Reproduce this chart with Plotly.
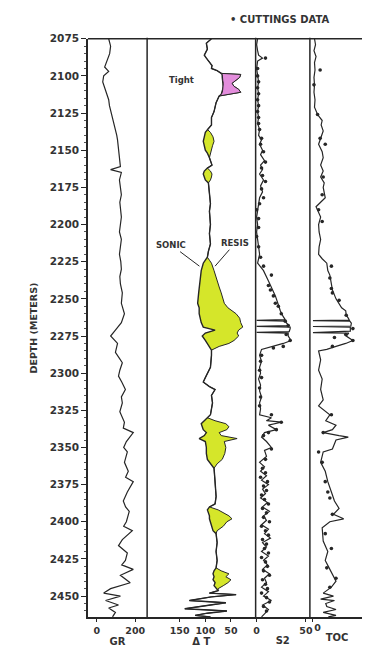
import plotly.graph_objects as go

# ---------------- data (depth in metres) ----------------
depth_ticks = list(range(2075, 2451, 25))

# Gamma ray (API)
gr_log = [
    (2075, 62), (2080, 72), (2085, 67), (2090, 51), (2094, 41), (2097, 62), (2100, 36),
    (2104, 31), (2110, 46), (2116, 62), (2120, 66), (2123, 72), (2127, 80), (2130, 87),
    (2136, 97), (2140, 104), (2143, 108), (2150, 113), (2156, 118), (2161, 123), (2163, 72),
    (2165, 128), (2170, 118), (2175, 125), (2180, 128), (2185, 120), (2190, 123), (2195, 128),
    (2200, 123), (2205, 118), (2210, 128), (2215, 123), (2220, 118), (2225, 125), (2230, 128),
    (2235, 120), (2240, 123), (2246, 133), (2253, 128), (2260, 144), (2266, 128), (2271, 97),
    (2275, 72), (2280, 108), (2286, 97), (2290, 118), (2293, 133), (2298, 120), (2302, 113),
    (2306, 130), (2311, 149), (2316, 128), (2320, 133), (2326, 120), (2333, 144), (2337, 138),
    (2340, 190), (2346, 154), (2350, 140), (2353, 159), (2360, 144), (2366, 164), (2370, 150),
    (2373, 190), (2380, 159), (2386, 138), (2390, 150), (2393, 169), (2400, 154), (2403, 140),
    (2406, 185), (2412, 133), (2416, 113), (2421, 159), (2426, 149), (2429, 130), (2432, 190),
    (2436, 123), (2441, 174), (2445, 72), (2448, 36), (2450, 123), (2453, 46), (2456, 113),
    (2458, 62), (2461, 97), (2464, 82),
]

# Sonic (delta-T, us/ft) and resistivity overlay (scaled to delta-T units)
dt_log = [
    (2075, 88, 88), (2078, 98, 98), (2082, 96, 96), (2086, 102, 102), (2088, 98, 98),
    (2091, 92, 92), (2093, 87, 87), (2095, 88, 88), (2096.5, 77, 77), (2098.3, 69, 69),
    (2099, 67, 31), (2101, 67, 33), (2103, 66, 40), (2105, 65, 48), (2107, 65, 44),
    (2109, 66, 35), (2111, 67, 31), (2112.5, 69, 60), (2113.5, 73, 73), (2118, 79, 79),
    (2124, 83, 83), (2128, 88, 88), (2133, 88, 88), (2136, 96, 96), (2138, 100, 90),
    (2141, 102, 85), (2144, 104, 83), (2147, 102, 86), (2150, 100, 88), (2152, 96, 90),
    (2155, 92, 92), (2160, 87, 87), (2162, 96, 96), (2164, 102, 90), (2166, 104, 87),
    (2168, 102, 88), (2170, 100, 90), (2172, 94, 94), (2178, 92, 92), (2186, 90, 90),
    (2191, 92, 92), (2200, 90, 90), (2206, 92, 92), (2213, 90, 90), (2218, 94, 94),
    (2222, 96, 96), (2224, 100, 92), (2226, 104, 88), (2231, 108, 83), (2236, 110, 79),
    (2242, 112, 73), (2246, 113, 69), (2253, 115, 63), (2256, 112, 56), (2260, 112, 40),
    (2263, 110, 33), (2266, 108, 31), (2269, 104, 27), (2271, 81, 35), (2273, 100, 38),
    (2275, 106, 35), (2278, 100, 44), (2280, 96, 54), (2282, 92, 73), (2284.5, 88, 88),
    (2288, 88, 88), (2296, 90, 90), (2303, 100, 100), (2306, 104, 104), (2309, 92, 92),
    (2311, 81, 81), (2315, 88, 88), (2320, 86, 86), (2328, 90, 90), (2330, 96, 96),
    (2332, 104, 81), (2334, 108, 60), (2336, 106, 54), (2338, 104, 58), (2340, 98, 73),
    (2342, 102, 69), (2344, 112, 38), (2346, 100, 63), (2350, 98, 60), (2354, 98, 62),
    (2358, 96, 67), (2361, 90, 77), (2364, 83, 83), (2373, 81, 81), (2383, 79, 79),
    (2388, 81, 81), (2390, 92, 92), (2392, 96, 75), (2394, 94, 63), (2396, 92, 54),
    (2398, 92, 48), (2400, 90, 58), (2403, 88, 65), (2406, 85, 77), (2408, 79, 79),
    (2414, 77, 77), (2420, 79, 79), (2426, 77, 77), (2431, 79, 79), (2433, 83, 69),
    (2435, 85, 54), (2437, 83, 60), (2439, 85, 50), (2441, 81, 56), (2443, 83, 65),
    (2445, 79, 75), (2446.3, 75, 75), (2448, 92, 92), (2449, 40, 40), (2450.5, 88, 88),
    (2453, 131, 131), (2454.5, 60, 60), (2456.5, 100, 100), (2458.5, 140, 140),
    (2460, 58, 58), (2461.5, 96, 96), (2463, 120, 120), (2464, 90, 90),
]
tight_top, tight_base = 2098.3, 2113.5

# Rock-Eval S2 (mg HC/g rock) continuous trace and cuttings samples
s2_log = [
    (2075, 1), (2079, 0), (2083, 1), (2086, 2), (2088, 6), (2090, 1), (2095, 0), (2100, 1),
    (2104, 2), (2108, 1), (2112, 2), (2116, 1), (2120, 2), (2124, 1), (2128, 2), (2132, 1),
    (2136, 3), (2140, 2), (2143, 5), (2146, 3), (2150, 6), (2153, 4), (2157, 8), (2160, 4),
    (2163, 6), (2166, 3), (2170, 7), (2174, 4), (2178, 6), (2182, 3), (2186, 2), (2190, 1),
    (2195, 0), (2200, 1), (2205, 0), (2210, 1), (2215, 2), (2220, 3), (2226, 1), (2231, 7),
    (2238, 12), (2242, 15), (2248, 19), (2254, 22), (2258, 24), (2262, 27), (2264, 29),
    (2264.5, 0), (2265, 30), (2266, 30), (2268, 33), (2268.5, 0), (2269, 34), (2270, 34),
    (2272, 33), (2272.5, 0), (2273, 32), (2275, 32), (2278, 35), (2280, 27), (2282, 15),
    (2284, 5), (2288, 3), (2292, 5), (2296, 3), (2300, 4), (2304, 2), (2308, 4), (2312, 3),
    (2316, 5), (2320, 3), (2324, 4), (2328, 3), (2330, 15), (2332, 10), (2333, 25),
    (2335, 12), (2338, 20), (2340, 8), (2343, 5), (2346, 10), (2350, 15), (2352, 8),
    (2356, 10), (2360, 3), (2363, 8), (2366, 4), (2369, 10), (2372, 5), (2375, 12), (2378, 6),
    (2381, 9), (2384, 4), (2387, 11), (2390, 6), (2393, 13), (2396, 7), (2399, 10), (2402, 5),
    (2405, 12), (2408, 8), (2411, 14), (2414, 6), (2417, 10), (2420, 5), (2423, 12), (2426, 7),
    (2429, 11), (2432, 6), (2435, 13), (2438, 8), (2441, 10), (2444, 5), (2447, 12), (2450, 7),
    (2453, 15), (2456, 6), (2459, 12), (2462, 8), (2464, 5),
]
s2_cuttings = [
    (2088, 9), (2095, 1), (2100, 1), (2104, 2), (2108, 1), (2112, 2), (2116, 1), (2120, 2),
    (2124, 1), (2128, 2), (2132, 2), (2136, 3), (2142, 5), (2146, 4), (2151, 7), (2158, 9),
    (2162, 5), (2167, 6), (2171, 9), (2176, 5), (2182, 7), (2186, 3), (2190, 0), (2196, 2),
    (2202, 2), (2208, 0), (2215, 2), (2222, 4), (2228, 7), (2234, 15), (2241, 12), (2244, 14),
    (2248, 17), (2253, 19), (2255, 22), (2260, 25), (2265, 29), (2268, 32), (2274, 30),
    (2278, 34), (2282, 27), (2283, 17), (2288, 5), (2292, 4), (2298, 3), (2303, 5), (2310, 3),
    (2316, 4), (2322, 3), (2328, 15), (2333, 25), (2338, 20), (2340, 12), (2342, 7),
    (2351, 15), (2358, 9), (2364, 6), (2367, 9), (2370, 4), (2373, 11), (2376, 7), (2379, 10),
    (2382, 5), (2385, 8), (2388, 12), (2391, 6), (2394, 10), (2397, 7), (2400, 13), (2403, 5),
    (2406, 9), (2409, 12), (2412, 6), (2415, 10), (2418, 8), (2421, 12), (2424, 5), (2427, 9),
    (2430, 11), (2433, 7), (2436, 13), (2439, 6), (2442, 9), (2445, 11), (2448, 5), (2451, 10),
    (2454, 13), (2457, 7), (2460, 10),
]

# Total organic carbon (wt %) continuous trace and cuttings samples
toc_log = [
    (2075, 0.3), (2079, 0.5), (2083, 0.2), (2087, 0.6), (2091, 0.3), (2096, 0.4), (2101, 0.2),
    (2106, 0.3), (2111, 0.2), (2116, 0.4), (2121, 0.3), (2126, 0.9), (2130, 1.8), (2133, 1.6),
    (2137, 2.0), (2142, 1.5), (2146, 1.1), (2151, 1.8), (2155, 2.0), (2160, 1.5), (2164, 2.0),
    (2168, 1.5), (2172, 2.2), (2175, 2.0), (2182, 2.4), (2188, 0.6), (2192, 1.2), (2195, 1.5),
    (2200, 1.1), (2205, 1.2), (2210, 1.5), (2215, 1.2), (2220, 1.1), (2223, 1.8), (2226, 2.7),
    (2231, 2.9), (2234, 3.3), (2240, 3.6), (2244, 3.8), (2250, 4.5), (2253, 5.1), (2256, 5.6),
    (2258, 6.4), (2261, 6.5), (2263, 6.9), (2264.3, 7.1), (2264.6, 0), (2265, 7.2),
    (2266.3, 7.5), (2268.3, 7.4), (2268.6, 0), (2269, 7.3), (2271.7, 7.3), (2272.7, 0),
    (2273, 7.0), (2275, 6.5), (2278, 7.8), (2280, 6.4), (2282, 4.5), (2284, 2.7), (2285, 1.1),
    (2291, 1.5), (2298, 1.1), (2304, 1.8), (2311, 1.5), (2318, 2.0), (2322, 1.1), (2324, 1.8),
    (2328, 3.3), (2332, 2.5), (2335, 4.5), (2338, 3.8), (2340, 2.0), (2342, 5.1), (2343, 6.9),
    (2345, 4.5), (2351, 3.8), (2353, 2.0), (2360, 1.5), (2366, 2.4), (2373, 2.9), (2380, 3.6),
    (2386, 4.2), (2391, 5.1), (2395, 4.0), (2398, 6.0), (2400, 3.3), (2404, 1.8), (2413, 2.0),
    (2420, 2.9), (2426, 2.4), (2430, 3.0), (2435, 3.8), (2440, 4.5), (2444, 3.6), (2448, 2.0),
    (2450, 4.0), (2452, 1.5), (2453, 4.2), (2455, 2.5), (2457, 2.7), (2459, 4.5), (2461, 2.0),
    (2463, 4.5), (2464, 3.0),
]
toc_cuttings = [
    (2096, 1.4), (2106, 0.2), (2126, 0.9), (2142, 1.4), (2146, 2.4), (2168, 2.0), (2180, 1.8),
    (2190, 1.1), (2198, 1.8), (2228, 3.6), (2236, 3.3), (2243, 3.6), (2246, 3.8), (2251, 5.1),
    (2261, 6.5), (2270, 7.8), (2274, 6.4), (2276, 4.2), (2278, 7.8), (2282, 3.8), (2328, 3.6),
    (2340, 2.0), (2353, 1.1), (2360, 1.8), (2373, 2.4), (2380, 2.9), (2384, 3.3), (2395, 3.8),
    (2408, 2.4), (2418, 3.6), (2431, 2.7), (2438, 4.5), (2444, 3.3),
]

# ---------------- styling ----------------
INK = "#262626"
YELLOW = "#d5e62a"
PINK = "#e38ddc"
FONT = "DejaVu Sans"
W, H = 370, 652
OFF_X, OFF_Y = 8, 8          # page offset of the plot div inside the browser
top_px, bot_px = 33, 617
track_px = [87, 147, 257, 312, 367]

def px(v):
    return (v - OFF_X) / W

def py(v):
    return 1 - (v - OFF_Y) / H

ydom = [py(bot_px), py(top_px)]
depth_min = 2075
depth_max = 2075 + (bot_px - top_px) / 1.5

fig = go.Figure()

gr_d, gr_v = zip(*gr_log)
fig.add_trace(go.Scatter(x=gr_v, y=gr_d, mode="lines", xaxis="x", yaxis="y",
                         line=dict(color=INK, width=1.2)))

dt_d, dt_s, dt_r = zip(*dt_log)
fig.add_trace(go.Scatter(x=dt_s, y=dt_d, mode="lines", xaxis="x2", yaxis="y",
                         line=dict(color=INK, width=1.4)))
fig.add_trace(go.Scatter(x=dt_r, y=dt_d, mode="lines", xaxis="x2", yaxis="y",
                         fill="tonextx", fillcolor=YELLOW,
                         line=dict(color=INK, width=1.0)))
idx = [i for i, d in enumerate(dt_d) if tight_top <= d <= tight_base]
tx = [dt_r[i] for i in idx] + [dt_s[i] for i in reversed(idx)]
ty = [dt_d[i] for i in idx] + [dt_d[i] for i in reversed(idx)]
fig.add_trace(go.Scatter(x=tx, y=ty, mode="lines", xaxis="x2", yaxis="y",
                         fill="toself", fillcolor=PINK,
                         line=dict(color=INK, width=1.0)))

s2_d, s2_v = zip(*s2_log)
fig.add_trace(go.Scatter(x=s2_v, y=s2_d, mode="lines", xaxis="x3", yaxis="y",
                         line=dict(color=INK, width=1.2)))
s2c_d, s2c_v = zip(*s2_cuttings)
fig.add_trace(go.Scatter(x=s2c_v, y=s2c_d, mode="markers", xaxis="x3", yaxis="y",
                         marker=dict(color=INK, size=3.6)))

toc_d, toc_v = zip(*toc_log)
fig.add_trace(go.Scatter(x=toc_v, y=toc_d, mode="lines", xaxis="x4", yaxis="y",
                         line=dict(color=INK, width=1.2)))
tocc_d, tocc_v = zip(*toc_cuttings)
fig.add_trace(go.Scatter(x=tocc_v, y=tocc_d, mode="markers", xaxis="x4", yaxis="y",
                         marker=dict(color=INK, size=3.6)))

tickfont = dict(family=FONT, size=9.5, color="#333", weight="bold")
titlefont = dict(family=FONT, size=10, color="#333", weight="bold")

def xaxis(i, rng, vals, title, **kw):
    d = dict(domain=[px(track_px[i]), px(track_px[i + 1])], anchor="y", range=rng,
             tickvals=vals, ticks="outside", ticklen=3, tickwidth=1.2, tickcolor=INK,
             showline=True, linecolor=INK, linewidth=1.6, showgrid=False, zeroline=False,
             tickfont=tickfont, title=dict(text=title, font=titlefont, standoff=2),
             fixedrange=True)
    d.update(kw)
    return d

fig.update_layout(
    width=W, height=H, margin=dict(l=0, r=0, t=0, b=0),
    paper_bgcolor="white", plot_bgcolor="white", showlegend=False,
    xaxis=xaxis(0, [-46, 262], [0, 200], "GR"),
    xaxis2=xaxis(1, [213.5, 1.9], [150, 100, 50], "Δ T"),
    xaxis3=xaxis(2, [-1, 54], [0, 50], "S2"),
    xaxis4=xaxis(3, [-0.6, 10], [0, 10], "TOC", ticklabelposition="outside right"),
    yaxis=dict(domain=ydom, range=[depth_max, depth_min], anchor="x",
               tickvals=depth_ticks, ticks="outside", ticklen=5, tickwidth=1.2,
               tickcolor=INK, showline=True, linecolor=INK, linewidth=1.6,
               showgrid=False, zeroline=False, tickfont=dict(family=FONT, size=10.5,
               color="#333", weight="bold"),
               minor=dict(dtick=5, tick0=2075, ticks="outside", ticklen=2.5,
                          tickcolor="#555", tickwidth=1, showgrid=False),
               title=dict(text="DEPTH (METERS)", standoff=10,
                          font=dict(family=FONT, size=9.5, color="#333", weight="bold")),
               fixedrange=True),
)

# track frame
shapes = []
for xp in track_px[1:]:
    shapes.append(dict(type="line", xref="paper", yref="paper", x0=px(xp), x1=px(xp),
                       y0=py(bot_px), y1=py(top_px - 1), line=dict(color=INK, width=1.5)))
shapes.append(dict(type="line", xref="paper", yref="paper", x0=px(track_px[0]),
                   x1=px(track_px[-1]), y0=py(top_px), y1=py(top_px),
                   line=dict(color=INK, width=1.6)))
fig.update_layout(shapes=shapes)

ann_font = dict(family=FONT, size=8.5, color="#333", weight="bold")
fig.update_layout(annotations=[
    dict(text="Tight", x=146, y=2103, xref="x2", yref="y", showarrow=False,
         font=ann_font),
    dict(text="SONIC", x=111.5, y=2228, xref="x2", yref="y", ax=-28, ay=-21,
         showarrow=True, arrowhead=0, arrowwidth=1, arrowcolor=INK, font=ann_font),
    dict(text="RESIS", x=81, y=2228, xref="x2", yref="y", ax=20, ay=-23,
         showarrow=True, arrowhead=0, arrowwidth=1, arrowcolor=INK, font=ann_font),
    dict(text="• CUTTINGS DATA", x=px(229), y=py(14), xref="paper", yref="paper",
         xanchor="left", yanchor="middle", showarrow=False,
         font=dict(family=FONT, size=10, color="#333", weight="bold")),
])

fig.write_html("out.html")
